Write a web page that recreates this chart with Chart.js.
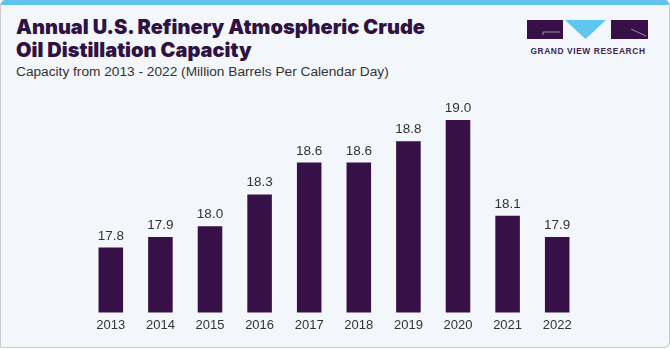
<!DOCTYPE html>
<html>
<head>
<meta charset="utf-8">
<script src="https://cdn.jsdelivr.net/npm/chart.js@4.4.1/dist/chart.umd.min.js"></script>
<style>
  html, body { margin: 0; padding: 0; background: #ffffff; }
  #card {
    position: absolute; left: 0; top: 0; width: 668px; height: 347px;
    background: #f3f6fa; border: 1px solid #c9cbce; border-top: none;
    border-radius: 5px 5px 6px 2px; overflow: hidden;
  }
  #strip { position: absolute; left: 0; top: 0; width: 100%; height: 5px; background: #62c4ec; }
  #title {
    position: absolute; left: 16px; top: 16px; width: 520px;
    font-family: "Inter", "Liberation Sans", sans-serif; font-weight: 900;
    font-size: 20px; line-height: 23px; color: #2f1244; white-space: nowrap;
  }
  #subtitle {
    position: absolute; left: 16px; top: 64px;
    font-family: "Liberation Sans", "Arial", sans-serif; font-size: 13.7px; color: #333333;
  }
  #logo { position: absolute; left: 526px; top: 19px; width: 124px; height: 22px; }
  #logoText {
    position: absolute; left: 526px; top: 46px; width: 124px; text-align: center;
    font-family: "Liberation Sans", sans-serif; font-weight: bold; font-size: 8.4px;
    color: #3a2650; letter-spacing: 0.6px; white-space: nowrap;
  }
  #wrap { position: absolute; left: 0; top: 0; width: 670px; height: 350px; }
</style>
</head>
<body>
<div id="card">
  <div id="strip"></div>
</div>
<div id="title">Annual U.S. Refinery Atmospheric Crude<br>Oil Distillation Capacity</div>
<div id="subtitle">Capacity from 2013 - 2022 (Million Barrels Per Calendar Day)</div>
<svg id="logo" width="124" height="22" viewBox="0 0 124 22">
  <rect x="1" y="1" width="36" height="19" fill="#371048"/>
  <line x1="17" y1="13" x2="34" y2="13" stroke="#b9aac4" stroke-width="0.8"/>
  <line x1="17" y1="13" x2="17" y2="16" stroke="#b9aac4" stroke-width="0.8"/>
  <polygon points="39,1 80,1 59.5,20" fill="#5fc6f0"/>
  <rect x="85" y="1" width="37" height="19" fill="#371048"/>
  <line x1="105" y1="10" x2="120" y2="17" stroke="#b9aac4" stroke-width="0.8"/>
</svg>
<div id="logoText">GRAND VIEW RESEARCH</div>
<div id="wrap"><canvas id="chart" width="670" height="350"></canvas></div>
<script>
const years = ["2013","2014","2015","2016","2017","2018","2019","2020","2021","2022"];
const capacity = [17.8, 17.9, 18.0, 18.3, 18.6, 18.6, 18.8, 19.0, 18.1, 17.9];
const valueLabels = ["17.8","17.9","18.0","18.3","18.6","18.6","18.8","19.0","18.1","17.9"];

const valueLabelPlugin = {
  id: 'valueLabels',
  afterDatasetsDraw(chart) {
    const ctx = chart.ctx;
    const meta = chart.getDatasetMeta(0);
    ctx.save();
    ctx.font = '13.5px "Liberation Sans", Arial, sans-serif';
    ctx.fillStyle = '#333333';
    ctx.textAlign = 'center';
    ctx.textBaseline = 'alphabetic';
    meta.data.forEach((bar, i) => {
      ctx.fillText(valueLabels[i], bar.x, bar.y - 8);
    });
    ctx.restore();
  }
};

new Chart(document.getElementById('chart'), {
  type: 'bar',
  data: {
    labels: years,
    datasets: [{
      data: capacity,
      backgroundColor: '#371048',
      borderWidth: 0,
      categoryPercentage: 1.0,
      barPercentage: 0.495
    }]
  },
  options: {
    responsive: false,
    animation: false,
    devicePixelRatio: 1,
    layout: { padding: { left: 86, right: 88, top: 86, bottom: 12 } },
    plugins: { legend: { display: false }, tooltip: { enabled: false } },
    scales: {
      x: {
        grid: { display: false, drawTicks: false },
        border: { display: false },
        ticks: {
          color: '#333333', padding: 5,
          font: { family: '"Liberation Sans", Arial, sans-serif', size: 13 }
        }
      },
      y: {
        display: false,
        min: 17.19,
        max: 19.32
      }
    }
  },
  plugins: [valueLabelPlugin]
});
</script>
</body>
</html>
